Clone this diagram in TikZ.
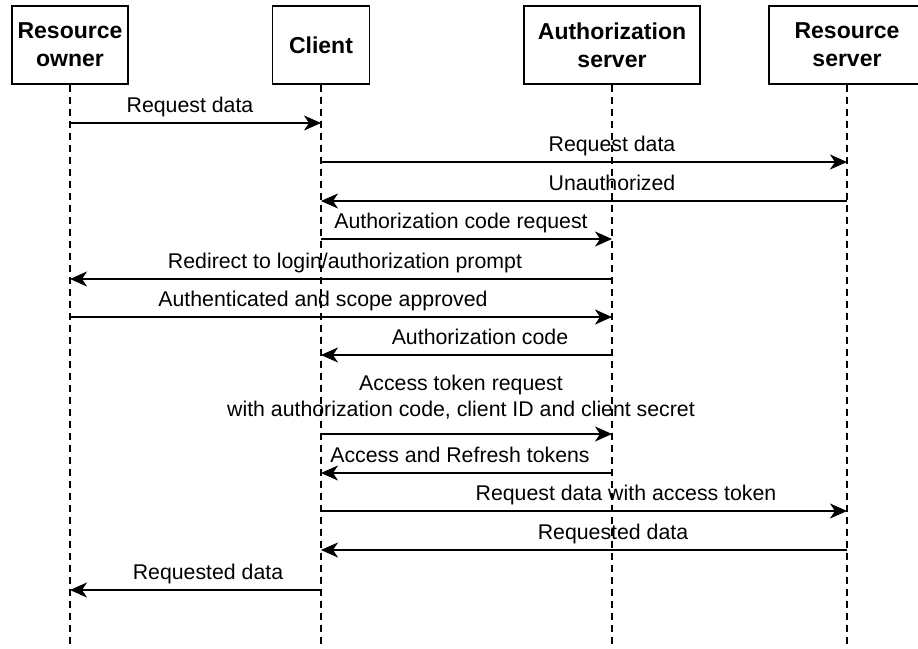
\documentclass[tikz,border=0pt]{standalone}
\usepackage{fontspec}
\setmainfont{Liberation Sans}
\usetikzlibrary{arrows.meta}
\begin{document}
\begin{tikzpicture}[x=1pt,y=-1pt,
  actor/.style={draw,line width=1.8pt,minimum height=78pt,align=center,
    font=\fontsize{23}{28}\selectfont\bfseries,inner sep=0pt},
  life/.style={line width=1.8pt,dash pattern=on 7pt off 5pt},
  msg/.style={line width=1.9pt,-{Stealth[length=17pt,width=15pt,inset=5pt]}},
  lbl/.style={anchor=base,font=\fontsize{21.3}{26}\selectfont,inner sep=0pt}]
\useasboundingbox (0,0) rectangle (918,648);
\clip (0,0) rectangle (918,648);
% actors
\node[actor,minimum width=116pt] (ro) at (70,45) {Resource\\owner};
\node[actor,minimum width=97pt]  (cl) at (321,45) {Client};
\node[actor,minimum width=176pt] (as) at (612,45) {Authorization\\server};
\node[actor,minimum width=156pt] (rs) at (847,45) {Resource\\server};
% lifelines
\coordinate (bot) at (0,650);
\foreach \a in {ro,cl,as,rs}{\draw[life] (\a.south) -- (\a.south |- bot);}
% message levels
\coordinate (m1) at (0,123);
\coordinate (m2) at (0,162);
\coordinate (m3) at (0,201);
\coordinate (m4) at (0,239);
\coordinate (m5) at (0,279);
\coordinate (m6) at (0,317);
\coordinate (m7) at (0,355);
\coordinate (m8) at (0,434);
\coordinate (m9) at (0,473);
\coordinate (m10) at (0,511);
\coordinate (m11) at (0,550);
\coordinate (m12) at (0,590);
% messages
\draw[msg] (ro |- m1) -- (cl |- m1);
\node[lbl] (l1) at (190,112) {Request data};
\draw[msg] (cl |- m2) -- (rs |- m2);
\node[lbl] (l2) at (612,151) {Request data};
\draw[msg] (rs |- m3) -- (cl |- m3);
\node[lbl] (l3) at (612,190) {Unauthorized};
\draw[msg] (cl |- m4) -- (as |- m4);
\node[lbl] (l4) at (461,228) {Authorization code request};
\draw[msg] (as |- m5) -- (ro |- m5);
\node[lbl] (l5) at (345,268) {Redirect to login/authorization prompt};
\draw[msg] (ro |- m6) -- (as |- m6);
\node[lbl] (l6) at (323,306) {Authenticated and scope approved};
\draw[msg] (as |- m7) -- (cl |- m7);
\node[lbl] (l7) at (480,344) {Authorization code};
\draw[msg] (cl |- m8) -- (as |- m8);
\node[lbl] (l8a) at (461,390) {Access token request};
\node[lbl] (l8b) at (461,416) {with authorization code, client ID and client secret};
\draw[msg] (as |- m9) -- (cl |- m9);
\node[lbl] (l9) at (460,462) {Access and Refresh tokens};
\draw[msg] (cl |- m10) -- (rs |- m10);
\node[lbl] (l10) at (626,500) {Request data with access token};
\draw[msg] (rs |- m11) -- (cl |- m11);
\node[lbl] (l11) at (613,539) {Requested data};
\draw[msg] (cl |- m12) -- (ro |- m12);
\node[lbl] (l12) at (208,579) {Requested data};
\end{tikzpicture}
\end{document}
